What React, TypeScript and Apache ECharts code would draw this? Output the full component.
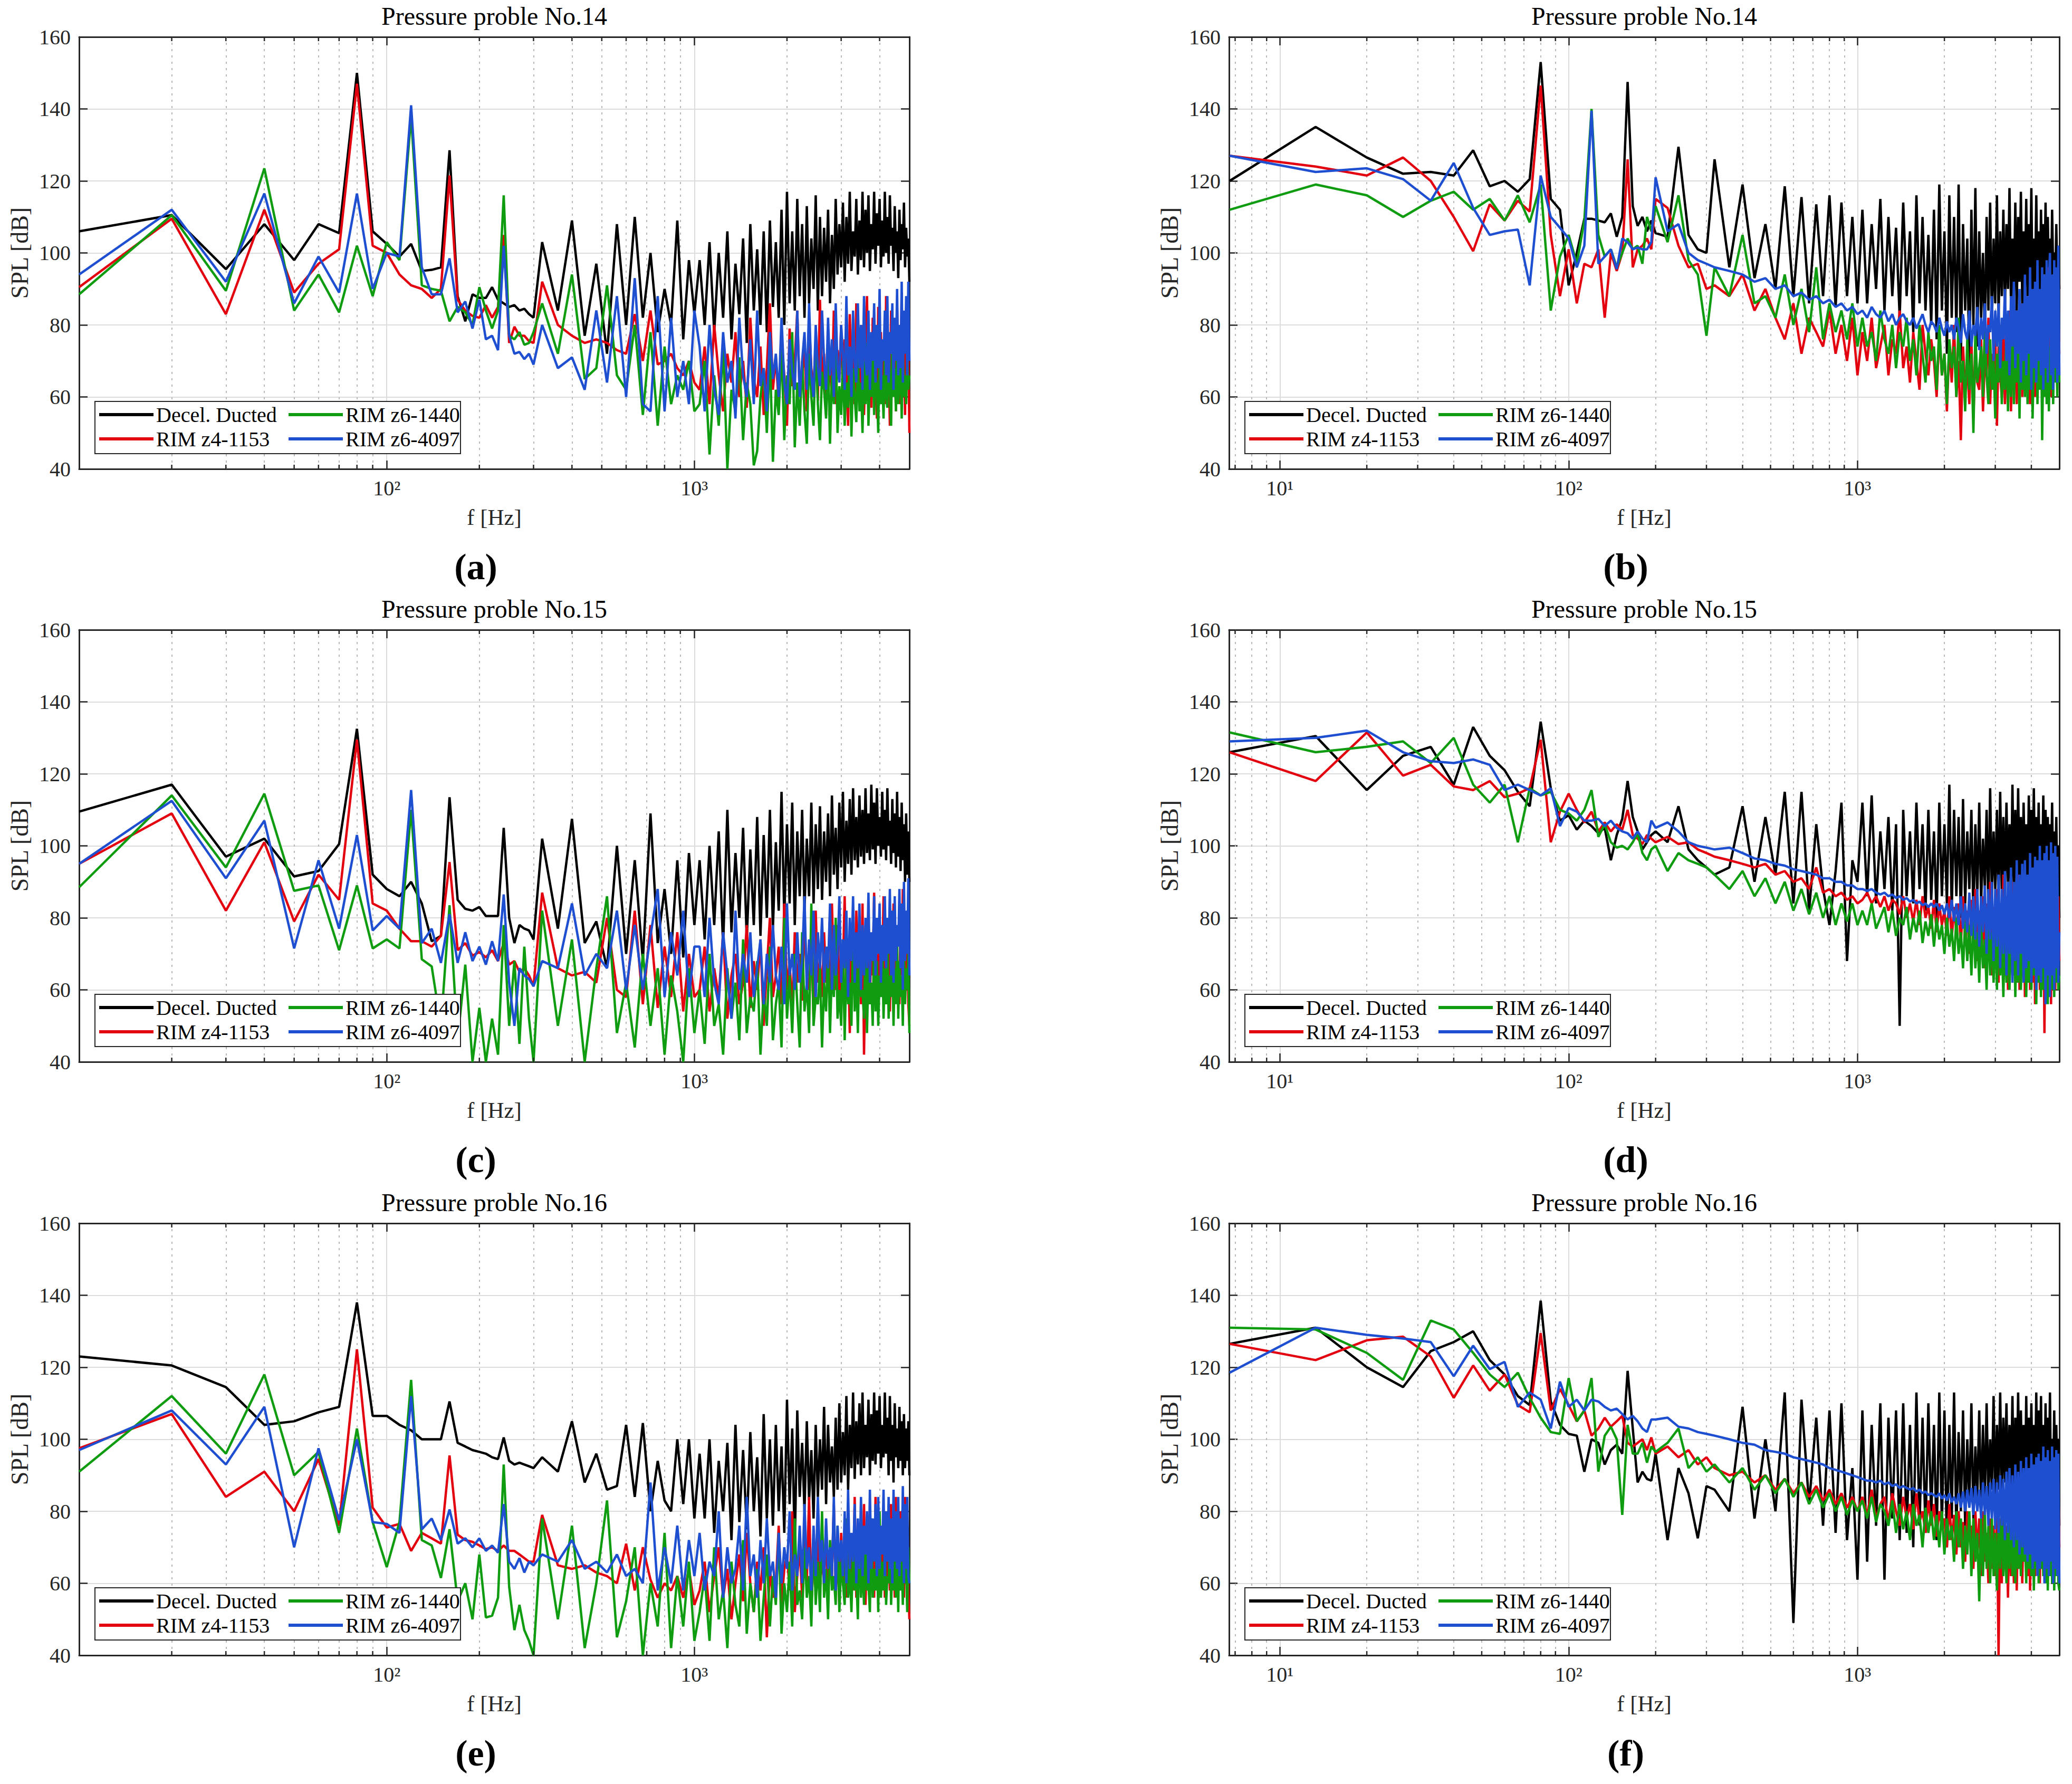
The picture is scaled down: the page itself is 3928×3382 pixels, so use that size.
// Six SPL spectra panels (pressure probes No.14-16), drawn with ECharts

import { useEffect, useRef } from 'react';
import * as echarts from 'echarts';

const SERIES_NAMES = ['Decel. Ducted', 'RIM z4-1153', 'RIM z6-1440', 'RIM z6-4097'];
const SERIES_COLORS = ['#000000', '#e3000f', '#109c10', '#1f4fd1'];

// frequency samples [Hz]: left-hand spectra (10 Hz bins) and right-hand spectra (6.7 Hz bins)
const FREQ_L = [
    10, 20, 30, 40, 50, 60, 70, 80, 90, 100,
    110, 120, 130, 140, 150, 160, 170, 180, 190, 200,
    210, 220, 230, 240, 250, 260, 270, 280, 290, 300,
    320, 360, 400, 440, 480, 520, 560, 600, 640, 680,
    720, 760, 800, 840, 880, 920, 960, 1000,
    1040, 1080, 1120, 1160, 1200, 1240, 1280, 1320, 1360, 1400,
    1440, 1480, 1520, 1560, 1600, 1640, 1680, 1720, 1760, 1800,
    1840, 1880, 1920, 1960, 2000, 2040, 2080, 2120, 2160, 2200,
    2240, 2280, 2320, 2360, 2400, 2440, 2480, 2520, 2560, 2600,
    2640, 2680, 2720, 2760, 2800, 2840, 2880, 2920, 2960, 3000,
    3040, 3080, 3120, 3160, 3200, 3240, 3280, 3320, 3360, 3400,
    3440, 3480, 3520, 3560, 3600, 3640, 3680, 3720, 3760, 3800,
    3840, 3880, 3920, 3960, 4000, 4040, 4080, 4120, 4160, 4200,
    4240, 4280, 4320, 4360, 4400, 4440, 4480, 4520, 4560, 4600,
    4640, 4680, 4720, 4760, 4800, 4840, 4880, 4920, 4960, 5000,
];
const FREQ_R = [
    6.7, 13.3, 20, 26.7, 33.3, 40, 46.7, 53.3, 60, 66.7,
    73.3, 80, 86.7, 93.3, 100, 106.7, 113.3, 120, 126.7, 133.3,
    140, 146.7, 153.3, 160, 166.7, 173.3, 180, 186.7, 193.3, 200,
    220, 240, 260, 280, 300,
    320, 360, 400, 440, 480, 520, 560, 600, 640, 680,
    720, 760, 800, 840, 880, 920, 960, 1000,
    1040, 1080, 1120, 1160, 1200, 1240, 1280, 1320, 1360, 1400,
    1440, 1480, 1520, 1560, 1600, 1640, 1680, 1720, 1760, 1800,
    1840, 1880, 1920, 1960, 2000, 2040, 2080, 2120, 2160, 2200,
    2240, 2280, 2320, 2360, 2400, 2440, 2480, 2520, 2560, 2600,
    2640, 2680, 2720, 2760, 2800, 2840, 2880, 2920, 2960, 3000,
    3040, 3080, 3120, 3160, 3200, 3240, 3280, 3320, 3360, 3400,
    3440, 3480, 3520, 3560, 3600, 3640, 3680, 3720, 3760, 3800,
    3840, 3880, 3920, 3960, 4000, 4040, 4080, 4120, 4160, 4200,
    4240, 4280, 4320, 4360, 4400, 4440, 4480, 4520, 4560, 4600,
    4640, 4680, 4720, 4760, 4800, 4840, 4880, 4920, 4960, 5000,
];

// (a) probe 14, left
const A_DUCTED = [
    106, 110.5, 95.5, 108, 98, 108, 105.5, 150, 106, 102.5,
    99, 102.5, 95, 95.3, 96, 128.5, 88, 81, 88.5, 87.5,
    87.5, 90.5, 87, 86, 85, 85.5, 84, 84.5, 83, 82,
    103, 84, 109, 77, 97, 72, 108, 80, 110, 82,
    100, 78, 90, 80, 109, 76, 98, 83,
    98, 80, 103, 78, 100, 82, 106, 76, 97, 83,
    104, 75, 108, 84, 101, 80, 106, 78, 109, 85,
    103, 82, 112, 80, 117, 86, 106, 84, 115, 88,
    108, 82, 113, 86, 104, 90, 116, 84, 110, 88,
    107, 92, 112, 86, 105, 90, 115, 94, 108, 96,
    114, 92, 110, 97, 117, 95, 106, 99, 115, 94,
    109, 98, 117, 96, 112, 100, 116, 95, 108, 101,
    117, 97, 111, 102, 115, 96, 109, 99, 117, 100,
    110, 97, 116, 102, 107, 95, 113, 100, 106, 93,
    112, 98, 108, 101, 114, 96, 107, 99, 104, 92,
];
const A_Z4_1153 = [
    90.5, 109.5, 83, 112, 89, 97, 101, 147, 102, 100,
    94, 91, 90, 87.5, 90, 121.5, 87, 84, 82.5, 82,
    85.5, 82, 85, 105, 75, 79.5, 77, 77, 75.5, 75,
    92, 80, 77, 75, 76, 75, 73, 72, 83, 70,
    84, 69, 70, 72, 68, 66, 70, 64,
    62, 74, 58, 80, 66, 56, 72, 64, 78, 60,
    70, 57, 82, 65, 60, 74, 55, 68, 86, 62,
    71, 58, 76, 66, 52, 79, 63, 70, 84, 60,
    66, 74, 56, 81, 68, 62, 76, 59, 87, 64,
    72, 55, 78, 67, 61, 84, 58, 73, 66, 80,
    60, 76, 68, 52, 83, 65, 72, 58, 86, 63,
    74, 60, 80, 55, 70, 88, 62, 76, 57, 82,
    66, 72, 54, 85, 64, 78, 60, 74, 58, 88,
    65, 71, 52, 84, 68, 62, 79, 56, 86, 64,
    72, 58, 89, 62, 76, 55, 82, 66, 73, 50,
];
const A_Z6_1440 = [
    88.5, 110.5, 89.5, 123.5, 84, 94, 83.5, 102, 88, 103,
    98, 138, 91, 90, 89.5, 81, 85, 83.5, 80, 90.5,
    84, 79, 84, 116, 77, 76, 78, 74.5, 75, 78,
    86, 72, 94, 65, 68, 91, 66, 62, 80, 55,
    78, 52, 74, 58, 66, 62, 70, 56,
    58, 70, 44, 66, 52, 74, 40, 62, 56, 71,
    48, 64, 58, 41, 45, 60, 68, 50, 72, 42,
    62, 55, 74, 48, 66, 58, 78, 46, 64, 52,
    70, 56, 47, 72, 60, 52, 76, 58, 48, 67,
    62, 54, 72, 47, 66, 58, 77, 50, 63, 55,
    70, 52, 64, 57, 74, 49, 68, 60, 53, 72,
    56, 64, 50, 70, 58, 75, 52, 66, 60, 73,
    55, 68, 62, 50, 76, 58, 66, 54, 72, 60,
    57, 74, 62, 52, 78, 60, 68, 56, 74, 58,
    64, 70, 54, 76, 60, 66, 58, 72, 62, 66,
];
const A_Z6_4097 = [
    94, 112, 92, 116.5, 86, 99, 89, 116.5, 90, 100,
    99, 141, 96, 88.5, 88.5, 98.5, 83.5, 86.5, 79, 87,
    76, 77, 73, 102, 77, 72, 72.5, 70.5, 72, 69,
    80, 68, 71, 62, 84, 64, 88, 60, 93, 58,
    56, 88, 56, 82, 60, 70, 58, 84,
    74, 56, 80, 62, 55, 78, 64, 70, 54, 82,
    66, 60, 76, 58, 84, 63, 68, 56, 78, 65,
    72, 60, 82, 64, 58, 76, 67, 62, 84, 60,
    70, 78, 62, 86, 66, 60, 80, 68, 63, 84,
    70, 62, 82, 66, 76, 60, 86, 68, 64, 80,
    72, 62, 88, 66, 74, 60, 84, 70, 64, 86,
    68, 80, 62, 88, 70, 66, 84, 62, 78, 70,
    86, 64, 80, 68, 90, 62, 76, 70, 84, 66,
    88, 64, 78, 72, 86, 62, 82, 70, 90, 66,
    80, 68, 92, 64, 84, 72, 88, 66, 92, 70,
];

// (b) probe 14, right
const B_DUCTED = [
    120, 135, 126.5, 122, 122.5, 121.5, 128.5, 118.5, 120, 117,
    120.5, 153, 115, 112, 91, 100, 109.5, 109.5, 109, 108.5,
    111, 104.5, 110, 147.5, 113, 107.5, 110, 106, 109, 105.5,
    104.5, 129.5, 105, 101, 100,
    126, 96, 119, 93, 108, 90, 118.5, 88, 115.5, 86,
    113.5, 88, 116, 85, 114, 88, 110, 86,
    112, 86, 108, 90, 115, 84, 110, 88, 107, 82,
    114, 88, 106, 78, 116, 86, 110, 84, 105, 80,
    112, 76, 119, 84, 106, 72, 116, 82, 110, 78,
    119, 70, 108, 84, 104, 66, 112, 80, 118, 74,
    106, 82, 100, 76, 110, 84, 114, 80, 104, 86,
    116, 82, 106, 88, 112, 84, 108, 90, 118, 86,
    104, 88, 114, 84, 110, 92, 117, 86, 106, 90,
    115, 88, 108, 92, 118, 86, 104, 90, 116, 92,
    106, 88, 112, 90, 108, 94, 114, 88, 110, 92,
    104, 90, 112, 94, 100, 88, 108, 92, 102, 90,
];
const B_Z4_1153 = [
    127, 124, 121.5, 126.5, 120, 110, 100.5, 113.5, 109, 114.5,
    111.5, 146.5, 105, 88, 101, 86, 97, 96, 101, 82,
    100, 95, 100, 126, 96, 101, 102, 104, 101, 115,
    112.5, 102, 96, 97, 90,
    91, 88, 94, 84, 90, 82, 76, 86, 72, 82,
    78, 74, 84, 72, 80, 70, 82, 66,
    78, 70, 82, 68, 74, 80, 66, 76, 72, 84,
    68, 74, 64, 78, 70, 62, 80, 72, 66, 76,
    70, 60, 78, 66, 72, 56, 74, 64, 80, 60,
    70, 48, 74, 62, 68, 58, 76, 54, 72, 64,
    62, 76, 56, 70, 66, 82, 58, 72, 62, 78,
    52, 74, 66, 60, 82, 58, 70, 64, 84, 56,
    74, 62, 80, 58, 72, 66, 86, 60, 78, 64,
    88, 62, 74, 58, 80, 66, 90, 60, 76, 64,
    84, 62, 78, 58, 86, 64, 80, 62, 96, 66,
    78, 60, 88, 64, 82, 70, 92, 66, 84, 72,
];
const B_Z6_1440 = [
    112, 119, 116, 110, 114.5, 117, 112, 115, 109, 116,
    108.5, 119, 84, 99, 105, 97, 109, 140, 105, 99,
    101, 96, 100, 104, 101, 102, 97, 110, 106, 113,
    103, 116, 98, 94, 77,
    96, 88, 105, 86, 88, 82, 94, 80, 90, 78,
    96, 76, 86, 78, 84, 76, 86, 74,
    82, 74, 78, 70, 84, 76, 72, 80, 68, 78,
    74, 82, 70, 76, 66, 80, 72, 64, 78, 70,
    74, 62, 80, 66, 72, 58, 76, 68, 74, 60,
    82, 64, 70, 56, 76, 62, 72, 50, 78, 64,
    68, 74, 60, 80, 66, 58, 76, 62, 70, 54,
    72, 64, 80, 58, 70, 62, 78, 56, 74, 60,
    82, 58, 72, 64, 76, 54, 80, 62, 72, 60,
    84, 58, 74, 62, 80, 54, 72, 64, 82, 58,
    74, 62, 84, 48, 72, 60, 80, 58, 86, 56,
    74, 62, 82, 58, 76, 64, 72, 60, 82, 64,
];
const B_Z6_4097 = [
    127, 122.5, 123.5, 120.5, 114.5, 125, 112.5, 105, 106, 106.5,
    91, 121.5, 110, 107, 104, 96, 102, 139.5, 97, 99,
    101, 95.5, 104, 103, 101, 101.5, 101, 101, 103, 121,
    106, 108, 100, 98, 97,
    96, 95, 94, 92, 93, 90, 91, 88, 89, 87,
    88, 86, 87, 85, 86, 84, 85, 83,
    84, 82, 85, 83, 82, 84, 81, 83, 80, 82,
    83, 81, 80, 82, 79, 81, 83, 80, 78, 81,
    80, 78, 82, 79, 77, 81, 78, 80, 76, 82,
    79, 75, 83, 78, 76, 84, 74, 80, 77, 85,
    73, 82, 76, 86, 72, 80, 78, 88, 70, 84,
    74, 86, 68, 82, 76, 90, 70, 84, 66, 88,
    74, 92, 68, 84, 72, 90, 64, 86, 70, 94,
    66, 88, 72, 96, 62, 90, 68, 92, 64, 98,
    70, 90, 66, 96, 62, 94, 68, 98, 64, 92,
    100, 66, 94, 62, 98, 68, 96, 64, 102, 66,
];

// (c) probe 15, left
const C_DUCTED = [
    109.5, 117, 97, 102, 91.5, 93, 100.5, 132.5, 92, 88,
    86, 90, 84, 73.5, 75, 113.5, 85, 82.5, 82, 83,
    80.5, 80.5, 80.5, 105, 80, 73, 78, 77, 76.5, 74,
    102, 77, 107.5, 73, 79, 66, 100, 70, 96, 68,
    109, 73, 88, 70, 96, 69, 98, 78,
    96, 74, 100, 78, 104, 72, 110, 76, 98, 80,
    105, 74, 99, 78, 108, 75, 103, 80, 110, 77,
    101, 82, 115, 80, 106, 84, 112, 78, 104, 86,
    110, 82, 102, 86, 112, 84, 106, 88, 111, 85,
    104, 90, 109, 86, 114, 92, 105, 88, 112, 94,
    115, 90, 107, 95, 113, 92, 116, 96, 108, 94,
    114, 97, 110, 95, 116, 98, 109, 96, 117, 99,
    112, 95, 116, 100, 108, 97, 115, 99, 110, 96,
    116, 100, 107, 95, 113, 98, 109, 94, 115, 97,
    108, 93, 112, 96, 106, 90, 109, 92, 104, 90,
];
const C_Z4_1153 = [
    95, 109, 82, 101, 79, 92, 85, 129.5, 84, 82,
    77, 73.5, 73.5, 72, 75, 95.5, 71, 73, 69.5, 70.5,
    69, 71, 68, 73, 67, 68, 65, 66, 64, 61,
    87, 66, 64, 65, 62, 80, 60, 58, 82, 56,
    78, 55, 72, 58, 76, 54, 70, 58,
    60, 72, 54, 66, 58, 76, 52, 64, 70, 56,
    62, 78, 55, 68, 60, 74, 50, 66, 80, 58,
    64, 72, 56, 84, 60, 68, 54, 76, 62, 70,
    57, 80, 64, 60, 74, 52, 82, 62, 68, 58,
    76, 62, 70, 55, 84, 64, 60, 78, 56, 72,
    66, 86, 58, 70, 48, 78, 64, 60, 82, 62,
    74, 56, 84, 42, 68, 62, 80, 58, 72, 64,
    87, 60, 70, 56, 78, 64, 62, 86, 58, 74,
    62, 80, 54, 72, 66, 84, 58, 76, 62, 68,
    56, 82, 64, 88, 58, 74, 62, 80, 56, 50,
];
const C_Z6_1440 = [
    88.5, 114, 94, 114.5, 87.5, 89, 71, 89, 71.5, 74,
    71.5, 110, 68.5, 66.5, 50, 83.5, 46, 67, 40, 55,
    40, 52, 42, 78, 50, 68, 45, 72, 52, 40,
    82, 50, 74, 40, 66, 86, 48, 62, 44, 70,
    50, 66, 42, 64, 54, 40, 66, 48,
    60, 45, 70, 50, 56, 42, 66, 52, 62, 46,
    74, 48, 58, 54, 68, 42, 60, 50, 72, 46,
    56, 62, 44, 80, 52, 64, 48, 70, 56, 44,
    76, 54, 62, 48, 84, 50, 58, 56, 66, 44,
    62, 54, 72, 48, 66, 58, 80, 52, 60, 50,
    74, 46, 68, 56, 62, 50, 78, 54, 66, 48,
    72, 58, 60, 52, 76, 48, 66, 56, 62, 50,
    78, 54, 68, 50, 64, 58, 74, 52, 66, 56,
    76, 52, 64, 58, 70, 50, 66, 56, 74, 52,
    68, 58, 64, 50, 72, 56, 66, 60, 70, 48,
];
const C_Z6_4097 = [
    95, 112.5, 91, 107, 71.5, 96, 77, 103, 76.5, 80.5,
    77, 115.5, 73, 77, 67.5, 81, 67.5, 76, 68, 72,
    67, 73.5, 68, 86.5, 62, 50, 66, 64, 63, 61,
    68, 66, 84, 64, 70, 66, 82, 60, 78, 60,
    75, 88, 58, 76, 64, 82, 58, 72,
    72, 58, 80, 62, 56, 76, 64, 52, 82, 60,
    70, 62, 76, 58, 66, 74, 56, 70, 62, 78,
    64, 60, 72, 56, 84, 64, 70, 60, 76, 62,
    68, 86, 60, 74, 64, 82, 58, 76, 66, 80,
    62, 72, 66, 84, 60, 78, 64, 70, 86, 62,
    74, 66, 82, 58, 80, 68, 86, 62, 76, 66,
    84, 60, 78, 64, 80, 66, 87, 62, 76, 68,
    86, 64, 80, 70, 84, 62, 78, 68, 86, 66,
    80, 70, 88, 64, 82, 62, 86, 68, 78, 72,
    88, 66, 84, 60, 90, 68, 82, 70, 91, 64,
];

// (d) probe 15, right
const D_DUCTED = [
    126, 130.5, 115.5, 125, 127.5, 117, 133, 125, 121, 115,
    111, 134.5, 116, 107, 108.5, 104.5, 107, 105.5, 103.5, 105,
    96, 103, 107.5, 118, 108, 104, 99, 101, 103, 104,
    101, 111, 99, 96, 94,
    92, 94, 111, 90, 108, 92, 115, 84, 115, 82,
    106, 88, 78, 93, 112, 68, 96, 90,
    112, 86, 114, 84, 104, 88, 108, 82, 106, 50,
    110, 86, 104, 84, 112, 88, 106, 82, 110, 85,
    104, 80, 112, 86, 106, 84, 117, 82, 110, 86,
    108, 80, 113, 84, 104, 88, 110, 80, 106, 86,
    112, 84, 102, 88, 110, 82, 116, 86, 104, 88,
    110, 84, 115, 88, 108, 86, 112, 90, 106, 84,
    117, 88, 110, 86, 116, 90, 108, 84, 112, 92,
    106, 88, 114, 86, 110, 92, 116, 88, 108, 90,
    112, 86, 106, 92, 114, 88, 110, 90, 108, 86,
    106, 92, 112, 88, 104, 90, 108, 86, 100, 80,
];
const D_Z4_1153 = [
    126, 118, 131.5, 119.5, 122.5, 116.5, 115.5, 118, 113.5, 114.5,
    116, 129.5, 101, 109.5, 114.5, 110, 106.5, 109.5, 104, 106.5,
    104, 106, 104.5, 110, 103, 102, 100.5, 103, 102, 101,
    102.5, 100.5, 101, 99, 98,
    97, 96, 95, 94, 95, 92, 93, 90, 91, 88,
    94, 87, 88, 86, 87, 85, 86, 84,
    85, 87, 84, 86, 83, 86, 82, 85, 84, 81,
    86, 80, 84, 79, 85, 78, 86, 80, 83, 77,
    85, 76, 84, 78, 82, 75, 86, 74, 83, 76,
    84, 72, 86, 74, 82, 70, 85, 72, 88, 68,
    82, 70, 86, 66, 84, 68, 90, 64, 83, 66,
    88, 62, 84, 66, 92, 64, 86, 60, 84, 68,
    90, 64, 86, 62, 92, 60, 84, 66, 88, 58,
    90, 64, 86, 60, 84, 62, 88, 56, 90, 64,
    84, 60, 88, 62, 92, 48, 86, 62, 84, 60,
    88, 56, 92, 62, 84, 60, 88, 64, 86, 68,
];
const D_Z6_1440 = [
    131.5, 126, 127.5, 129, 123, 130, 117, 112, 117, 101,
    116, 114, 115, 110, 109, 107, 110, 115.5, 102.5, 106,
    101, 99.5, 100, 99, 101, 103.5, 98, 96, 99, 100,
    93, 98, 96, 95, 94,
    92, 88, 93, 86, 91, 84, 90, 82, 88, 81,
    87, 80, 86, 78, 84, 79, 84, 78,
    82, 78, 84, 77, 80, 83, 76, 82, 75, 80,
    78, 83, 74, 80, 76, 82, 73, 79, 75, 81,
    72, 80, 74, 78, 70, 80, 72, 77, 68, 80,
    70, 76, 66, 79, 68, 78, 64, 80, 66, 76,
    62, 78, 66, 74, 60, 80, 64, 76, 62, 78,
    60, 80, 64, 74, 58, 78, 62, 82, 60, 76,
    64, 80, 58, 78, 62, 82, 60, 76, 64, 84,
    58, 78, 62, 80, 60, 76, 64, 82, 56, 78,
    62, 80, 58, 84, 60, 76, 62, 82, 56, 86,
    62, 78, 60, 84, 58, 80, 62, 76, 60, 64,
];
const D_Z6_4097 = [
    129, 130, 132, 126, 123.5, 123, 124, 122.5, 115.5, 117,
    115.5, 114, 116, 105.5, 110.5, 109.5, 107, 107, 107.5, 105.5,
    107, 105, 104, 103.5, 102, 104, 102, 101, 107, 105,
    106.5, 104, 101, 100, 99.5,
    99, 99.5, 98, 96.5, 96, 95, 94.5, 93.5, 93, 92.5,
    92, 91, 91, 90, 90, 89, 89, 88,
    88, 87.5, 88, 87, 86.5, 87, 86, 86.5, 85.5, 86,
    85, 85.5, 84.5, 85, 84, 84.5, 83.5, 84, 83, 84,
    83, 84, 82, 83.5, 81, 84, 80, 85, 79, 84,
    78, 86, 77, 84, 76, 87, 75, 86, 74, 88,
    72, 86, 76, 89, 70, 88, 74, 90, 68, 88,
    72, 92, 66, 88, 70, 93, 64, 90, 70, 94,
    62, 90, 68, 96, 64, 92, 70, 95, 62, 96,
    66, 92, 68, 98, 62, 94, 66, 97, 60, 96,
    64, 100, 62, 96, 66, 98, 56, 100, 64, 96,
    58, 101, 64, 98, 60, 100, 66, 97, 62, 76,
];

// (e) probe 16, left
const E_DUCTED = [
    123, 120.5, 114.5, 104, 105, 107.5, 109, 138, 106.5, 106.5,
    104, 102.5, 100, 100, 100, 110.5, 99, 98, 97, 96.5,
    96, 95, 94.5, 100.5, 94, 93, 93.5, 93, 92.5, 92,
    95, 91, 105, 88, 96, 86, 87, 104, 84, 104.5,
    80, 94, 83, 80, 100, 82, 100, 78,
    96, 78, 100, 74, 94, 80, 99, 72, 104, 77,
    97, 75, 102, 80, 95, 73, 107, 78, 100, 76,
    104, 80, 98, 74, 111, 82, 103, 70, 108, 84,
    99, 80, 105, 83, 97, 78, 104, 84, 100, 86,
    109, 82, 104, 88, 98, 84, 106, 86, 110, 88,
    102, 90, 112, 86, 104, 92, 113, 89, 105, 93,
    110, 90, 113, 92, 104, 95, 111, 90, 107, 94,
    113, 93, 108, 96, 112, 92, 104, 95, 113, 96,
    106, 90, 112, 94, 104, 88, 110, 95, 103, 92,
    109, 94, 105, 90, 107, 92, 103, 94, 105, 90,
];
const E_Z4_1153 = [
    97.5, 107, 84, 91, 80, 94.5, 76, 125, 81, 75.5,
    76.5, 69, 74, 72.5, 71, 95.5, 73.5, 72, 71.5, 70.5,
    69.5, 70, 69, 70.5, 69, 69, 68, 67, 66, 66,
    79, 65, 64, 65, 63, 62, 60, 71, 58, 70,
    61, 56, 60, 58, 62, 56, 64, 54,
    58, 66, 52, 62, 70, 56, 64, 50, 60, 68,
    55, 74, 60, 52, 66, 58, 70, 45, 64, 56,
    60, 76, 54, 64, 68, 58, 80, 52, 62, 70,
    56, 72, 60, 84, 54, 66, 62, 74, 58, 68,
    60, 76, 56, 70, 62, 82, 58, 68, 54, 74,
    60, 72, 56, 80, 62, 70, 58, 84, 56, 66,
    62, 76, 58, 82, 54, 72, 60, 78, 62, 70,
    56, 84, 62, 74, 58, 68, 64, 80, 56, 72,
    62, 76, 58, 82, 60, 70, 56, 84, 62, 74,
    58, 80, 62, 70, 56, 84, 60, 76, 58, 50,
];
const E_Z6_1440 = [
    91, 112, 96, 118, 90, 96.5, 74, 103, 77, 64.5,
    77, 116.5, 72, 70.5, 61.5, 75, 55, 60, 50, 68,
    50.5, 51, 56, 93, 59, 47, 54, 47, 44, 40,
    78, 50, 76, 42, 60, 83, 45, 55, 70, 40,
    60, 48, 74, 42, 62, 48, 66, 44,
    52, 62, 44, 70, 50, 58, 42, 66, 54, 48,
    72, 46, 60, 52, 64, 44, 56, 68, 48, 62,
    54, 74, 46, 60, 52, 66, 48, 78, 54, 58,
    50, 70, 56, 62, 48, 74, 54, 66, 52, 80,
    56, 64, 50, 72, 58, 62, 54, 76, 52, 66,
    60, 54, 78, 56, 64, 52, 70, 58, 62, 50,
    76, 56, 66, 54, 72, 58, 60, 52, 78, 56,
    64, 58, 70, 52, 80, 56, 66, 58, 72, 54,
    62, 60, 76, 54, 66, 58, 74, 56, 68, 52,
    78, 58, 66, 54, 72, 60, 64, 52, 70, 60,
];
const E_Z6_4097 = [
    97, 108, 93, 109, 70, 97.5, 77.5, 100, 77, 76.5,
    74, 112, 75, 78, 72, 80.5, 71, 72.5, 70, 72.5,
    69, 70.5, 68.5, 82, 66, 64, 67, 63, 66, 65,
    68, 66, 72, 64, 66, 63, 68, 62, 64, 60,
    88, 58, 70, 60, 76, 58, 72, 62,
    74, 58, 66, 62, 80, 56, 70, 60, 64, 76,
    58, 84, 62, 68, 56, 72, 60, 78, 62, 66,
    56, 74, 60, 70, 64, 80, 58, 68, 62, 76,
    60, 82, 64, 70, 58, 76, 62, 84, 66, 72,
    60, 78, 64, 70, 62, 84, 58, 76, 66, 72,
    62, 80, 60, 86, 64, 74, 66, 82, 60, 78,
    64, 84, 62, 76, 68, 80, 60, 86, 64, 78,
    66, 82, 62, 84, 64, 76, 68, 86, 62, 80,
    66, 84, 64, 78, 60, 86, 66, 80, 64, 84,
    62, 78, 66, 87, 60, 82, 64, 84, 62, 60,
];

// (f) probe 16, right
const F_DUCTED = [
    126.5, 131, 120, 114.5, 124.5, 127, 130, 122, 118, 112,
    109.5, 138.5, 110.5, 104, 101.5, 101, 91, 100, 99, 93,
    97, 98.5, 96, 119, 103, 88, 91, 89, 88.5, 96,
    72, 92, 85, 72.5, 87,
    86, 80, 109, 78, 100, 80, 113, 49, 111, 82,
    106, 76, 108, 74, 110, 72, 92, 61,
    108, 66, 104, 76, 110, 61, 106, 78, 108, 72,
    110, 74, 104, 70, 113, 76, 106, 74, 110, 78,
    104, 72, 113, 76, 108, 70, 104, 78, 113, 74,
    102, 80, 108, 76, 100, 82, 110, 78, 98, 84,
    108, 80, 104, 82, 110, 84, 100, 86, 112, 82,
    104, 86, 113, 84, 106, 88, 110, 84, 104, 86,
    112, 82, 106, 88, 113, 84, 108, 86, 104, 82,
    112, 88, 106, 84, 110, 86, 104, 88, 113, 84,
    108, 86, 112, 80, 104, 86, 110, 84, 106, 88,
    113, 82, 100, 86, 108, 84, 104, 86, 100, 76,
];
const F_Z4_1153 = [
    126.5, 122, 127.5, 128.5, 123, 111.5, 120.5, 113.5, 118, 109.5,
    107.5, 129.5, 108, 114, 109.5, 105, 108, 101, 103, 106,
    103.5, 105, 106.5, 99, 98, 99, 100, 97, 100.5, 96,
    98, 95, 97, 93, 95,
    92, 90, 91, 88, 90, 86, 89, 85, 88, 84,
    87, 83, 86, 82, 85, 81, 84, 80,
    84, 79, 86, 78, 82, 84, 77, 85, 80, 76,
    84, 78, 82, 75, 85, 77, 80, 74, 83, 76,
    82, 73, 80, 76, 78, 70, 82, 72, 79, 68,
    80, 70, 77, 66, 80, 72, 76, 64, 80, 68,
    78, 62, 80, 66, 74, 60, 78, 64, 76, 62,
    80, 40, 78, 60, 82, 64, 76, 56, 80, 62,
    78, 60, 84, 58, 80, 64, 86, 60, 78, 66,
    82, 62, 84, 58, 80, 66, 88, 62, 78, 64,
    84, 60, 86, 64, 80, 62, 90, 64, 82, 66,
    86, 62, 82, 68, 88, 64, 82, 66, 88, 70,
];
const F_Z6_1440 = [
    131, 130.5, 124, 116.5, 133, 130.5, 124, 118, 114.5, 118.5,
    111.5, 106, 102, 101.5, 117, 105, 108, 117, 91, 101,
    103.5, 100, 79, 104, 96, 96, 99, 93.5, 98, 96.5,
    99, 103, 92, 95, 91,
    93, 88, 92, 86, 90, 85, 89, 84, 88, 82,
    86, 81, 85, 80, 84, 79, 83, 80,
    83, 78, 84, 77, 82, 80, 76, 83, 74, 82,
    75, 80, 72, 82, 76, 79, 70, 81, 74, 80,
    72, 79, 70, 80, 68, 78, 72, 76, 66, 80,
    70, 78, 64, 76, 68, 80, 62, 78, 66, 74,
    55, 78, 62, 80, 64, 76, 60, 78, 62, 74,
    58, 78, 64, 80, 62, 74, 60, 78, 64, 80,
    62, 74, 60, 80, 64, 76, 62, 82, 66, 74,
    60, 80, 64, 76, 62, 82, 58, 74, 64, 80,
    60, 76, 64, 84, 62, 76, 60, 82, 58, 76,
    62, 80, 60, 84, 58, 76, 62, 82, 60, 58,
];
const F_Z6_4097 = [
    118.5, 131, 129, 128, 127, 117.5, 126, 119.5, 121.5, 109,
    113, 111, 103, 116, 109, 111, 108, 111, 110.5, 109,
    108, 108.5, 107, 105.5, 106.5, 105, 103, 102, 105.5, 105.5,
    106, 103.5, 103, 102, 101.5,
    101, 100, 99, 98.5, 97, 96.5, 96, 95, 94.5, 94,
    93.5, 93, 92, 91.5, 91, 90.5, 90, 89.5,
    89, 88.5, 88.5, 88, 88.5, 87.5, 88, 87, 87.5, 86.5,
    87, 86.5, 86, 86.5, 85.5, 86, 85, 85.5, 84.5, 85,
    84.5, 84, 85, 83.5, 84.5, 83, 85, 82.5, 84, 82,
    85, 81, 85.5, 80, 86, 81, 86.5, 79, 87, 80,
    86, 78, 88, 79, 87, 76, 88, 78, 89, 75,
    88, 74, 90, 76, 89, 72, 91, 74, 92, 72,
    90, 70, 93, 72, 91, 68, 94, 70, 92, 68,
    95, 66, 92, 68, 96, 64, 93, 66, 95, 62,
    96, 64, 94, 66, 98, 60, 95, 64, 97, 62,
    94, 66, 98, 60, 95, 64, 97, 62, 96, 60,
];

// minor grid / minor tick positions [Hz]
const MINOR_L = [20, 30, 40, 50, 60, 70, 80, 90, 200, 300, 400, 500, 600, 700, 800, 900, 2000, 3000, 4000];
const MINOR_R = [7, 8, 9, ...MINOR_L];

const PANELS = [
    { title: 'Pressure proble No.14', label: '(a)', col: 0, row: 0, freq: FREQ_L, values: [A_DUCTED, A_Z4_1153, A_Z6_1440, A_Z6_4097] },
    { title: 'Pressure proble No.14', label: '(b)', col: 1, row: 0, freq: FREQ_R, values: [B_DUCTED, B_Z4_1153, B_Z6_1440, B_Z6_4097] },
    { title: 'Pressure proble No.15', label: '(c)', col: 0, row: 1, freq: FREQ_L, values: [C_DUCTED, C_Z4_1153, C_Z6_1440, C_Z6_4097] },
    { title: 'Pressure proble No.15', label: '(d)', col: 1, row: 1, freq: FREQ_R, values: [D_DUCTED, D_Z4_1153, D_Z6_1440, D_Z6_4097] },
    { title: 'Pressure proble No.16', label: '(e)', col: 0, row: 2, freq: FREQ_L, values: [E_DUCTED, E_Z4_1153, E_Z6_1440, E_Z6_4097] },
    { title: 'Pressure proble No.16', label: '(f)', col: 1, row: 2, freq: FREQ_R, values: [F_DUCTED, F_Z4_1153, F_Z6_1440, F_Z6_4097] },
];

const X_MIN = [10, 6.67];
const X_MAX = 5000;
const Y_MIN = 40;
const Y_MAX = 160;

const FONT = '"Liberation Serif", "Times New Roman", serif';
const AXIS_GRAY = '#262626';
const GRID_LEFT = [150, 2330];
const GRID_TOP = [70, 1194, 2319];
const GRID_W = 1574;
const GRID_H = 819;

const SUP: Record<number, string> = { 0: '⁰', 1: '¹', 2: '²', 3: '³', 4: '⁴' };
const fmtLog = (v: number) => {
    const l = Math.log10(v);
    const e = Math.round(l);
    return Math.abs(l - e) < 1e-6 ? '10' + SUP[e] : '';
};

export default function App() {
    const chartRef = useRef<HTMLDivElement>(null);

    useEffect(() => {
        if (!chartRef.current) return;
        const chart = echarts.init(chartRef.current, null, { renderer: 'svg' });

        const axisLine = { show: true, onZero: false, lineStyle: { color: AXIS_GRAY, width: 3 } };
        const axisTick = { show: true, inside: true, length: 16, lineStyle: { color: AXIS_GRAY, width: 2.5 } };
        const gridLine = { show: true, lineStyle: { color: '#dcdcdc', width: 2 } };

        const grid = PANELS.map((p) => ({
            left: GRID_LEFT[p.col],
            top: GRID_TOP[p.row],
            width: GRID_W,
            height: GRID_H,
            show: false,
        }));

        const xAxis = PANELS.flatMap((p, i) => {
            const base = { type: 'log' as const, logBase: 10, gridIndex: i, min: X_MIN[p.col], max: X_MAX };
            return [
                {
                    ...base,
                    position: 'bottom' as const,
                    name: 'f [Hz]',
                    nameLocation: 'middle' as const,
                    nameGap: 70,
                    nameTextStyle: { fontFamily: FONT, fontSize: 43, color: AXIS_GRAY },
                    axisLine,
                    axisTick,
                    axisLabel: {
                        formatter: fmtLog,
                        showMinLabel: p.col === 1,
                        fontFamily: FONT,
                        fontSize: 40,
                        color: AXIS_GRAY,
                        margin: 16,
                    },
                    splitLine: gridLine,
                },
                {
                    ...base,
                    position: 'top' as const,
                    axisLine,
                    axisTick,
                    axisLabel: { show: false },
                    splitLine: { show: false },
                },
            ];
        });

        const yAxis = PANELS.flatMap((_p, i) => [
            {
                type: 'value' as const,
                gridIndex: i,
                min: Y_MIN,
                max: Y_MAX,
                interval: 20,
                position: 'left' as const,
                name: 'SPL [dB]',
                nameLocation: 'middle' as const,
                nameGap: 90,
                nameTextStyle: { fontFamily: FONT, fontSize: 46, color: AXIS_GRAY },
                axisLine,
                axisTick,
                axisLabel: { fontFamily: FONT, fontSize: 40, color: AXIS_GRAY, margin: 16 },
                splitLine: gridLine,
            },
            {
                type: 'value' as const,
                gridIndex: i,
                min: Y_MIN,
                max: Y_MAX,
                interval: 20,
                position: 'right' as const,
                axisLine,
                axisTick,
                axisLabel: { show: false },
                splitLine: { show: false },
            },
        ]);

        const lineSeries = PANELS.flatMap((p, i) =>
            p.values.map((vals, k) => ({
                type: 'line' as const,
                name: SERIES_NAMES[k],
                xAxisIndex: 2 * i,
                yAxisIndex: 2 * i,
                data: p.freq.map((f, j) => [f, vals[j]]),
                symbol: 'none',
                showSymbol: false,
                silent: true,
                emphasis: { disabled: true },
                lineStyle: { color: SERIES_COLORS[k], width: 4.5 },
                itemStyle: { color: SERIES_COLORS[k] },
                z: 2 + k,
                markLine: k === 0 ? {
                    silent: true,
                    symbol: ['none', 'none'],
                    label: { show: false },
                    z: 1,
                    lineStyle: { color: '#b8b8b8', width: 2, type: [4, 8] },
                    data: (p.col === 0 ? MINOR_L : MINOR_R).map((v) => ({ xAxis: v })),
                } : undefined,
            }))
        );

        // short minor ticks on the bottom and top frame
        const minorTicks = PANELS.map((p, i) => ({
            type: 'custom' as const,
            xAxisIndex: 2 * i,
            yAxisIndex: 2 * i,
            silent: true,
            z: 6,
            encode: { x: 0, y: 1 },
            data: (p.col === 0 ? MINOR_L : MINOR_R).map((v) => [v, Y_MIN]),
            renderItem: (_params: any, api: any) => {
                const [x, yb] = api.coord([api.value(0), Y_MIN]);
                const yt = api.coord([api.value(0), Y_MAX])[1];
                const style = { stroke: AXIS_GRAY, lineWidth: 2.5 };
                return {
                    type: 'group',
                    children: [
                        { type: 'line', shape: { x1: x, y1: yb, x2: x, y2: yb - 8 }, style },
                        { type: 'line', shape: { x1: x, y1: yt, x2: x, y2: yt + 8 }, style },
                    ],
                };
            },
        }));

        const legendBase = {
            orient: 'vertical' as const,
            icon: 'rect',
            itemWidth: 103,
            itemHeight: 6,
            itemGap: 6,
            padding: 0,
            selectedMode: false,
            z: 12,
            textStyle: { fontFamily: FONT, fontSize: 40, color: '#000' },
        };
        const legend = PANELS.flatMap((p) => [
            { ...legendBase, left: GRID_LEFT[p.col] + 38, top: GRID_TOP[p.row] + 696, data: SERIES_NAMES.slice(0, 2) },
            { ...legendBase, left: GRID_LEFT[p.col] + 397, top: GRID_TOP[p.row] + 696, data: SERIES_NAMES.slice(2, 4) },
        ]);

        const graphic = PANELS.map((p) => ({
            type: 'rect' as const,
            left: GRID_LEFT[p.col] + 29,
            top: GRID_TOP[p.row] + 690,
            z: 11,
            shape: { width: 693, height: 99 },
            style: { fill: '#ffffff', stroke: AXIS_GRAY, lineWidth: 2 },
            silent: true,
        }));

        const title = PANELS.flatMap((p) => {
            const cx = GRID_LEFT[p.col] + GRID_W / 2;
            const top = GRID_TOP[p.row];
            return [
                {
                    text: p.title,
                    left: cx,
                    top: top - 64,
                    textAlign: 'center' as const,
                    padding: 0,
                    textStyle: { fontFamily: FONT, fontSize: 48, fontWeight: 'normal' as const, color: '#000' },
                },
                {
                    text: p.label,
                    left: cx - 35,
                    top: top + 969,
                    textAlign: 'center' as const,
                    padding: 0,
                    textStyle: { fontFamily: FONT, fontSize: 70, fontWeight: 'bold' as const, color: '#000' },
                },
            ];
        });

        const option: echarts.EChartsOption = {
            animation: false,
            backgroundColor: '#ffffff',
            title,
            legend,
            graphic,
            grid,
            xAxis,
            yAxis,
            series: [...lineSeries, ...minorTicks],
        } as echarts.EChartsOption;

        chart.setOption(option, { notMerge: true });

        return () => {
            chart.dispose();
        };
    }, []);

    return (
        <div
            ref={chartRef}
            style={{ position: 'absolute', left: 0, top: 0, width: '3928px', height: '3382px', background: '#fff' }}
        />
    );
}
